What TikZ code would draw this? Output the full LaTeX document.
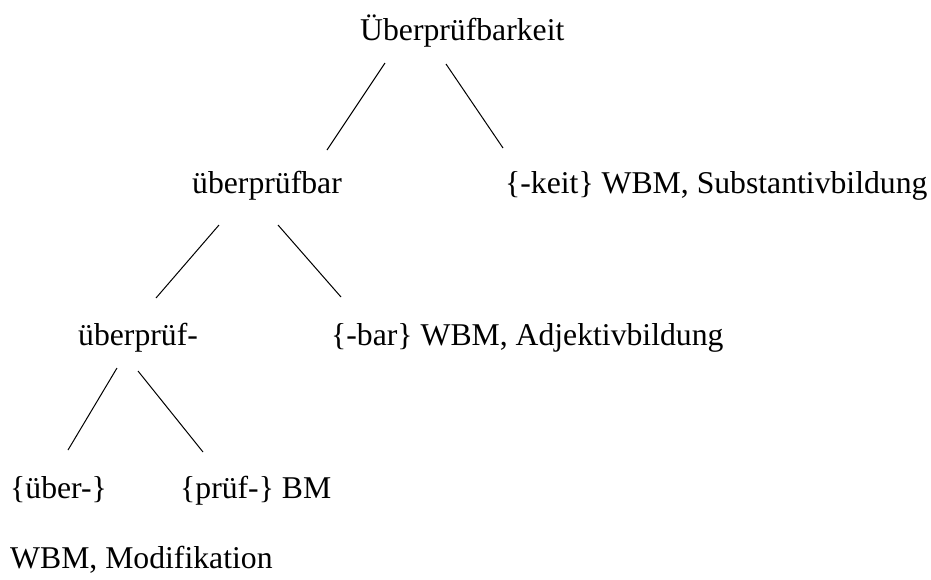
\documentclass[tikz,border=0pt]{standalone}
\usepackage{fontspec}
\setmainfont{Liberation Serif}
\usepackage{tikz}
\tikzset{MNode/.style={anchor=base west,inner sep=0pt,font=\fontsize{31.7}{38}\selectfont},
	MLine/.style={line width=1pt}}

\begin{document}
\begin{tikzpicture}[x=1pt,y=-1pt]
	\useasboundingbox (0,0) rectangle (931,579);
	\node[MNode] (R) at (360,40) {Überprüfbarkeit};
	\node[MNode] (A) at (192,193) {überprüfbar};
	\node[MNode] (A') at (505,193) {\{-keit\} WBM, Substantivbildung};
	\node[MNode] (B) at (78,345) {überprüf-};
	\node[MNode] (B') at (331,345) {\{-bar\} WBM, Adjektivbildung};
	\node[MNode] (C) at (10,498) {\{über-\}};
	\node[MNode] (C') at (180,498) {\{prüf-\} BM};
	\node[MNode] (D) at (10,568) {WBM, Modifikation};
	%
	\coordinate (R1) at (385,63);   \coordinate (A1) at (327,150);
	\coordinate (R2) at (446,64);   \coordinate (A2) at (503,148);
	\coordinate (A3) at (219,225);  \coordinate (B1) at (156,298);
	\coordinate (A4) at (278,225);  \coordinate (B2) at (341,297);
	\coordinate (B3) at (117,368);  \coordinate (C1) at (68,450);
	\coordinate (B4) at (138,371);  \coordinate (C2) at (203,452);
	%
	\path[MLine]
	(R1) edge (A1)
	(R2) edge (A2)
	(A3) edge (B1)
	(A4) edge (B2)
	(B3) edge (C1)
	(B4) edge (C2);
\end{tikzpicture}
\end{document}
